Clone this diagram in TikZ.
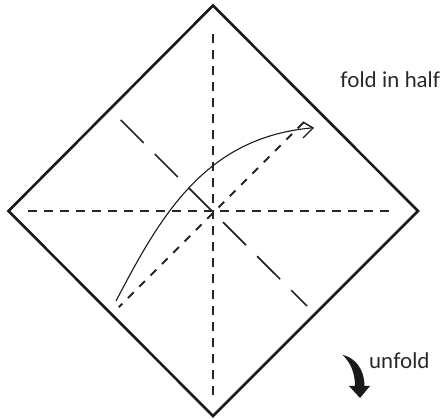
\documentclass[tikz,border=0pt]{standalone}
\usepackage{fontspec}
\setmainfont{Lato}
\tikzset{
  sheet/.style={line width=2.6pt,draw=black!90,line join=miter},
  valley/.style={line width=2pt,draw=black!85,dash pattern=on 8.5pt off 7.5pt},
  mountain/.style={line width=1.7pt,draw=black!85,dash pattern=on 32.5pt off 15.7pt},
  thin curve/.style={line width=1.1pt,draw=black!90},
  lab/.style={font=\fontsize{21.5pt}{24pt}\selectfont,text=black!85,inner sep=0pt,anchor=base west}
}
\begin{document}
\begin{tikzpicture}[x=1pt,y=-1pt]
\useasboundingbox (0,0) rectangle (447,419);
\coordinate (T) at (213,5.5);
\coordinate (R) at (418,211);
\coordinate (B) at (213,416);
\coordinate (L) at (8.5,211);
\draw[sheet] (T) -- (R) -- (B) -- (L) -- cycle;
\coordinate (v1) at (212.5,34.3);
\coordinate (v2) at (212.5,395);
\coordinate (h1) at (28,210.7);
\coordinate (h2) at (389,210.7);
\coordinate (d1) at (118.8,307.2);
\coordinate (d2) at (303.7,122.3);
\coordinate (m1) at (120.7,120);
\coordinate (m2) at (307,306);
\draw[valley] (v1) -- (v2);
\draw[valley] (h1) -- (h2);
\draw[valley,line width=1.8pt,dash pattern=on 8pt off 8pt,dash phase=3pt] (d1) -- (d2);
\draw[mountain] (m1) -- (m2);
\coordinate (c1) at (116,301);
\coordinate (c2) at (311,128);
\draw[thin curve] (c1) .. controls (161,215) and (205,138) .. (c2);
\coordinate (a1) at (303,122);
\coordinate (a2) at (303,138);
\coordinate (a0) at (313,128);
\draw[line width=1.4pt,black!90] (a1) -- (a0) -- (a2);
\node[lab] (fold) at (340,88) {fold in half};
\node[lab] (unf) at (369,369) {unfold};
\fill[black!90] (342.3,354.7) .. controls (355,358) and (364,368) .. (364.5,386)
  -- (370,386) -- (360,398) -- (349,386) -- (355,386)
  .. controls (355,372) and (350,362) .. cycle;
\end{tikzpicture}
\end{document}
